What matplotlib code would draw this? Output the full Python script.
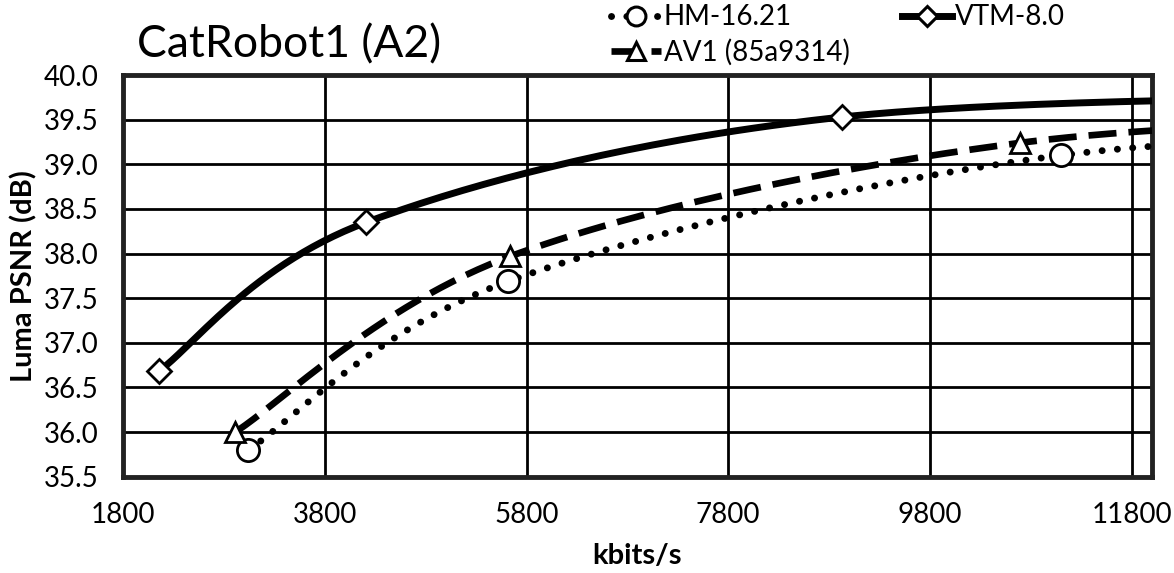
import numpy as np
import matplotlib.pyplot as plt

plt.rcParams['font.family'] = ['Lato', 'DejaVu Sans']

# rate (kbit/s) and luma PSNR (dB), last point lies outside the view
hm_rate = [3040, 5620, 11100, 17000]
hm_psnr = [35.80, 37.69, 39.10, 39.36]
av1_rate = [2910, 5640, 10690, 16500]
av1_psnr = [36.00, 37.97, 39.24, 39.56]
vtm_rate = [2150, 4210, 8930, 16000]
vtm_psnr = [36.68, 38.35, 39.53, 39.78]

xticks = [1800, 3800, 5800, 7800, 9800, 11800]
yticks = np.arange(35.5, 40.01, 0.5)


def smooth(xs, ys, n=60):
    # excel style smoothed line (bezier through the points)
    sx, sy = 9.92, 0.01121
    p = np.column_stack([np.array(xs) / sx, np.array(ys) / sy])
    pts = np.vstack([p[0], p, p[-1]])
    out = []
    t = np.linspace(0, 1, n)[:, None]
    for i in range(1, len(pts) - 2):
        p0, p1, p2, p3 = pts[i - 1], pts[i], pts[i + 1], pts[i + 2]
        c1 = p1 + (p2 - p0) / 6
        c2 = p2 - (p3 - p1) / 6
        b = (1 - t) ** 3 * p1 + 3 * (1 - t) ** 2 * t * c1 + 3 * (1 - t) * t ** 2 * c2 + t ** 3 * p2
        out.append(b)
    out = np.vstack(out)
    return out[:, 0] * sx, out[:, 1] * sy


fig = plt.figure(figsize=(11.74, 5.73), dpi=100)
ax = fig.add_axes([0.105, 0.168, 0.876, 0.701])

series = [
    ('HM-16.21', hm_rate, hm_psnr, 'o', (0, (0.01, 2.2)), 5.0, 16, 'round'),
    ('AV1 (85a9314)', av1_rate, av1_psnr, '^', (0, (4.2, 1.8)), 4.8, 15, 'butt'),
    ('VTM-8.0', vtm_rate, vtm_psnr, 'D', '-', 5.0, 12, 'butt'),
]
handles = []
for name, xs, ys, m, ls, lw, ms, cap in series:
    cx, cy = smooth(xs, ys)
    ax.plot(cx, cy, color='black', lw=lw, ls=ls, dash_capstyle=cap, zorder=3)
    ax.plot(xs, ys, ls='none', marker=m, ms=ms, mfc='white', mec='black', mew=2, zorder=4)
    h, = ax.plot([], [], color='black', lw=lw, ls=ls, marker=m, ms=ms * 0.85,
                 mfc='white', mec='black', mew=2.2, dash_capstyle=cap)
    handles.append(h)

ax.set_xlim(1800, 12000)
ax.set_ylim(35.5, 40.0)
ax.set_xticks(xticks)
ax.set_yticks(yticks)
ax.set_yticklabels(['%.1f' % v for v in yticks])
ax.grid(True, color='black', lw=2)
ax.set_axisbelow(True)
ax.tick_params(axis='y', labelsize=20, length=0, pad=18)
ax.tick_params(axis='x', labelsize=20, length=0, pad=18)
for s in ax.spines.values():
    s.set_linewidth(3.5)
    s.set_color('#222222')
ax.set_xlabel('kbits/s', fontsize=21, fontweight='bold', labelpad=11)
ax.set_ylabel('Luma PSNR (dB)', fontsize=21, fontweight='bold', labelpad=4)

fig.text(0.117, 0.922, 'CatRobot1 (A2)', fontsize=32, va='center', ha='left')

fig.legend(handles=handles, labels=[s[0] for s in series], ncol=2, loc='upper left',
           bbox_to_anchor=(0.511, 1.012), frameon=False, fontsize=20, handlelength=1.8,
           handletextpad=0.1, columnspacing=1.9, labelspacing=0.3, borderaxespad=0)

fig.savefig('out.png', dpi=100)
